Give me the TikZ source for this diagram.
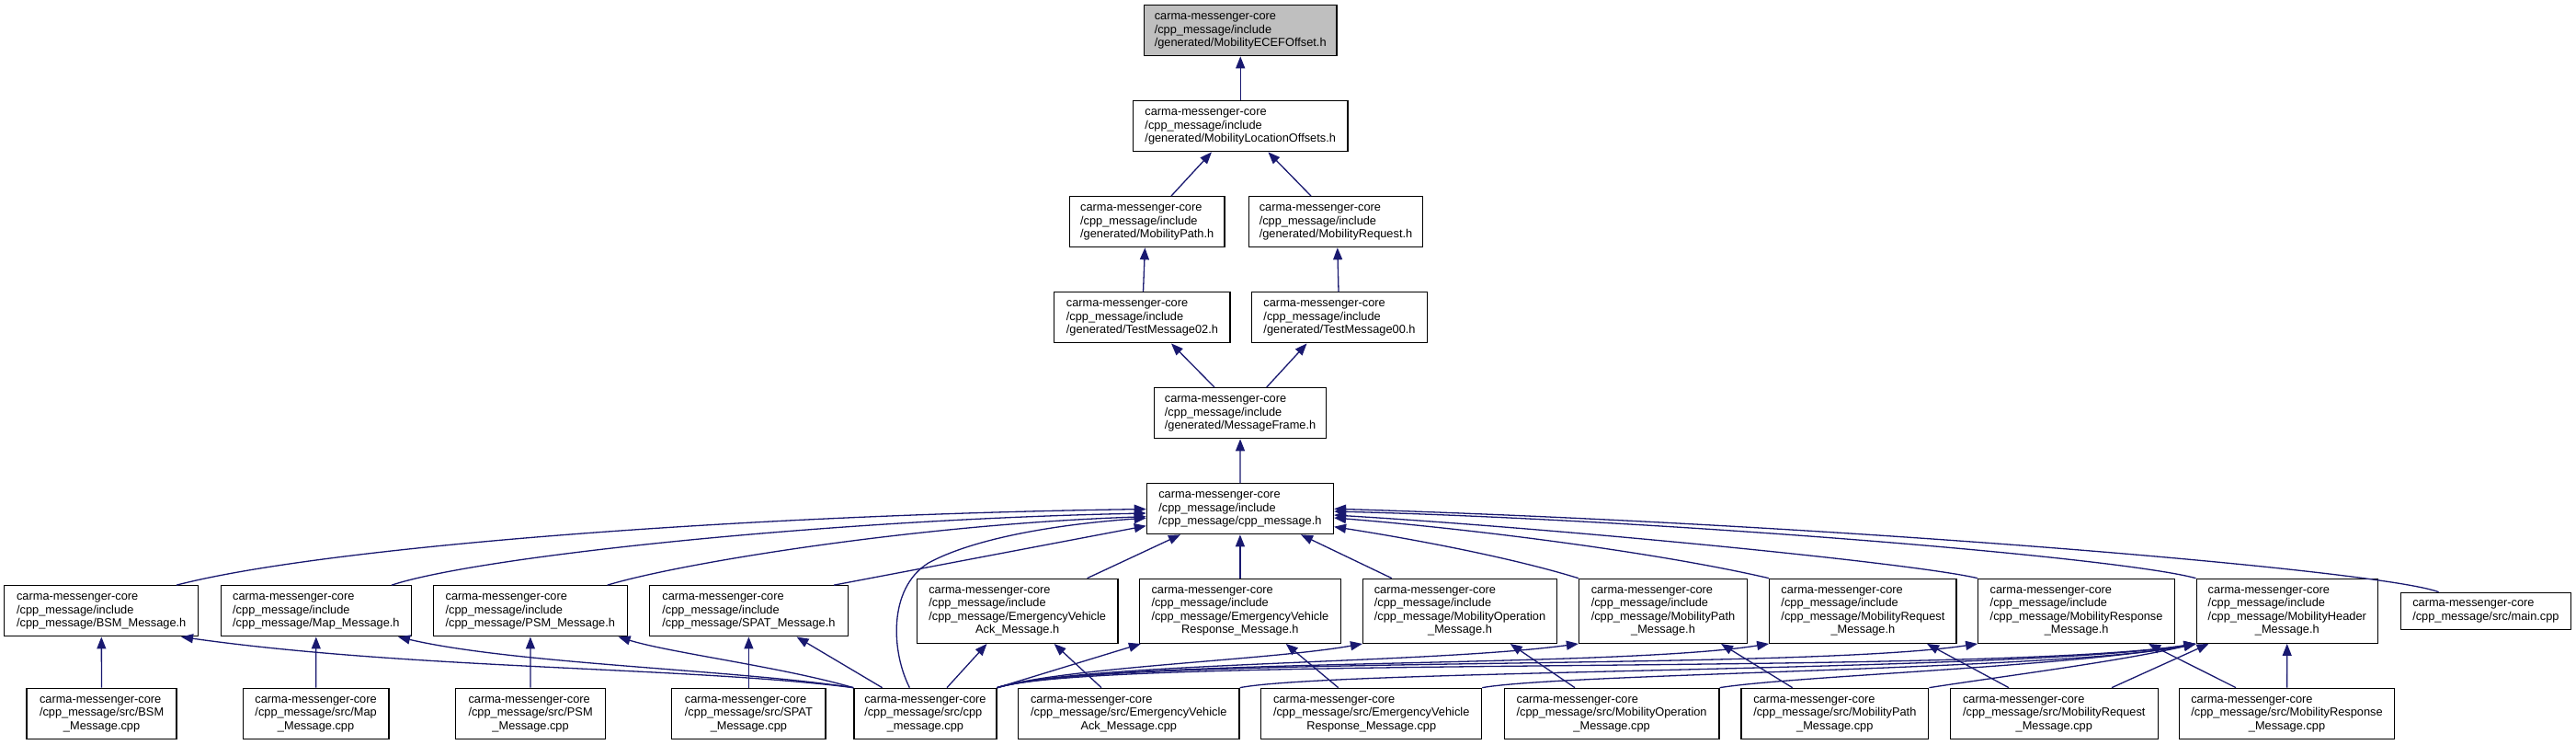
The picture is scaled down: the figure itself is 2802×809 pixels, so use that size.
\documentclass[tikz,border=0pt]{standalone}
\usepackage{fontspec}
\setmainfont{Liberation Sans}
\usetikzlibrary{arrows.meta}
\definecolor{edgeblue}{RGB}{25,25,112}
\definecolor{rootgray}{RGB}{191,191,191}
\newcommand\btxt[2]{\begin{tabular}{@{}l@{}}#1\\\multicolumn{1}{@{}c@{}}{#2}\end{tabular}}
\begin{document}
\begin{tikzpicture}[x=1pt,y=-1pt,
  box/.style={draw=black, line width=1.3pt, fill=white, inner sep=0pt, minimum height=55pt, font=\fontsize{12.8}{14.5}\selectfont},
  box4/.style={box, minimum height=70pt},
  edge/.style={draw=edgeblue, line width=1.3pt, -{Triangle[length=13pt,width=10pt]}}]
\fill[white] (0,0) rectangle (2802,809);
\useasboundingbox (0,0) rectangle (2802,809);
% top chain
\node[box, fill=rootgray, minimum width=209.7pt] (ecef) at (1349.2,33.2) {\btxt{carma-messenger-core\\/cpp\_message/include}{/generated/MobilityECEFOffset.h}};
\node[box, minimum width=233.5pt] (locoff) at (1349.2,137.2) {\btxt{carma-messenger-core\\/cpp\_message/include}{/generated/MobilityLocationOffsets.h}};
\node[box, minimum width=168.4pt] (mpathgen) at (1247.7,241.2) {\btxt{carma-messenger-core\\/cpp\_message/include}{/generated/MobilityPath.h}};
\node[box, minimum width=189.5pt] (mreqgen) at (1453,241.2) {\btxt{carma-messenger-core\\/cpp\_message/include}{/generated/MobilityRequest.h}};
\node[box, minimum width=191.3pt] (tm02) at (1242.4,345.3) {\btxt{carma-messenger-core\\/cpp\_message/include}{/generated/TestMessage02.h}};
\node[box, minimum width=191.3pt] (tm00) at (1457,345.3) {\btxt{carma-messenger-core\\/cpp\_message/include}{/generated/TestMessage00.h}};
\node[box, minimum width=187.4pt] (mframe) at (1349.1,449.2) {\btxt{carma-messenger-core\\/cpp\_message/include}{/generated/MessageFrame.h}};
\node[box, minimum width=203pt] (cpph) at (1348.9,553.2) {\btxt{carma-messenger-core\\/cpp\_message/include}{/cpp\_message/cpp\_message.h}};
% header row
\node[box, minimum width=210.9pt] (bsmh) at (110.2,664.3) {\btxt{carma-messenger-core\\/cpp\_message/include}{/cpp\_message/BSM\_Message.h}};
\node[box, minimum width=206.7pt] (maph) at (343.9,664.3) {\btxt{carma-messenger-core\\/cpp\_message/include}{/cpp\_message/Map\_Message.h}};
\node[box, minimum width=210.8pt] (psmh) at (576.8,664.3) {\btxt{carma-messenger-core\\/cpp\_message/include}{/cpp\_message/PSM\_Message.h}};
\node[box, minimum width=215.7pt] (spath) at (814.4,664.3) {\btxt{carma-messenger-core\\/cpp\_message/include}{/cpp\_message/SPAT\_Message.h}};
\node[box4, minimum width=218.7pt] (evackh) at (1106.7,664.3) {\btxt{carma-messenger-core\\/cpp\_message/include\\/cpp\_message/EmergencyVehicle}{Ack\_Message.h}};
\node[box4, minimum width=218.7pt] (evresph) at (1348.9,664.3) {\btxt{carma-messenger-core\\/cpp\_message/include\\/cpp\_message/EmergencyVehicle}{Response\_Message.h}};
\node[box4, minimum width=210.8pt] (mopH) at (1588,664.3) {\btxt{carma-messenger-core\\/cpp\_message/include\\/cpp\_message/MobilityOperation}{\_Message.h}};
\node[box4, minimum width=183pt] (mpathH) at (1809,664.3) {\btxt{carma-messenger-core\\/cpp\_message/include\\/cpp\_message/MobilityPath}{\_Message.h}};
\node[box4, minimum width=203.3pt] (mreqH) at (2026.4,664.3) {\btxt{carma-messenger-core\\/cpp\_message/include\\/cpp\_message/MobilityRequest}{\_Message.h}};
\node[box4, minimum width=213.7pt] (mrespH) at (2258.6,664.3) {\btxt{carma-messenger-core\\/cpp\_message/include\\/cpp\_message/MobilityResponse}{\_Message.h}};
\node[box4, minimum width=197.3pt] (mheadH) at (2487.8,664.3) {\btxt{carma-messenger-core\\/cpp\_message/include\\/cpp\_message/MobilityHeader}{\_Message.h}};
\node[box, minimum width=185.2pt, minimum height=40pt] (maincpp) at (2703.9,664.3) {\btxt{carma-messenger-core}{/cpp\_message/src/main.cpp}};
% source row
\node[box, minimum width=163pt] (bsmcpp) at (110.6,775.8) {\btxt{carma-messenger-core\\/cpp\_message/src/BSM}{\_Message.cpp}};
\node[box, minimum width=158.7pt] (mapcpp) at (343.6,775.8) {\btxt{carma-messenger-core\\/cpp\_message/src/Map}{\_Message.cpp}};
\node[box, minimum width=163pt] (psmcpp) at (577.1,775.8) {\btxt{carma-messenger-core\\/cpp\_message/src/PSM}{\_Message.cpp}};
\node[box, minimum width=167.3pt] (spatcpp) at (814.4,775.8) {\btxt{carma-messenger-core\\/cpp\_message/src/SPAT}{\_Message.cpp}};
\node[box, minimum width=155.1pt] (cppcpp) at (1006.4,775.8) {\btxt{carma-messenger-core\\/cpp\_message/src/cpp}{\_message.cpp}};
\node[box, minimum width=240.5pt] (evackcpp) at (1227.8,775.8) {\btxt{carma-messenger-core\\/cpp\_message/src/EmergencyVehicle}{Ack\_Message.cpp}};
\node[box, minimum width=239.8pt] (evrespcpp) at (1491.7,775.8) {\btxt{carma-messenger-core\\/cpp\_message/src/EmergencyVehicle}{Response\_Message.cpp}};
\node[box, minimum width=233.6pt] (mopcpp) at (1753.1,775.8) {\btxt{carma-messenger-core\\/cpp\_message/src/MobilityOperation}{\_Message.cpp}};
\node[box, minimum width=203.9pt] (mpathcpp) at (1995.8,775.8) {\btxt{carma-messenger-core\\/cpp\_message/src/MobilityPath}{\_Message.cpp}};
\node[box, minimum width=225.8pt] (mreqcpp) at (2234.3,775.8) {\btxt{carma-messenger-core\\/cpp\_message/src/MobilityRequest}{\_Message.cpp}};
\node[box, minimum width=234.3pt] (mrespcpp) at (2487.5,775.8) {\btxt{carma-messenger-core\\/cpp\_message/src/MobilityResponse}{\_Message.cpp}};
% top chain edges
\draw[edge] (locoff) -- (ecef);
\draw[edge] ([xshift=26.3pt]mpathgen.north) -- ([xshift=-31.2pt]locoff.south);
\draw[edge] ([xshift=-27pt]mreqgen.north) -- ([xshift=30.2pt]locoff.south);
\draw[edge] ([xshift=1.1pt]tm02.north) -- ([xshift=-2.3pt]mpathgen.south);
\draw[edge] ([xshift=-1pt]tm00.north) -- ([xshift=1.8pt]mreqgen.south);
\draw[edge] ([xshift=-28.1pt]mframe.north) -- ([xshift=31.6pt]tm02.south);
\draw[edge] ([xshift=28.6pt]mframe.north) -- ([xshift=-35.5pt]tm00.south);
\draw[edge] (cpph) -- (mframe);
% into cpp_message.h, left
\draw[edge] ([xshift=81.8pt]bsmh.north) .. controls (350,595) and (800,560) .. ([yshift=-0.3pt]cpph.west);
\draw[edge] ([xshift=82.1pt]maph.north) .. controls (520,605) and (900,565) .. ([yshift=-4.8pt]cpph.west);
\draw[edge] ([xshift=83.9pt]psmh.north) .. controls (740,612) and (1000,570) .. ([yshift=-8.5pt]cpph.west);
\draw[edge] ([xshift=92.6pt]spath.north) -- ([yshift=-18.5pt]cpph.west);
\draw[edge] ([xshift=-17pt]cppcpp.north) .. controls (970,710) and (965,640) .. (1010,612) .. controls (1060,585) and (1150,570) .. ([yshift=-10pt]cpph.west);
\draw[edge] ([xshift=75.9pt]evackh.north) -- ([xshift=-64.9pt]cpph.south);
\draw[edge] (evresph) -- (cpph);
\draw[edge] ([xshift=-74.2pt]mopH.north) -- ([xshift=66.1pt]cpph.south);
% into cpp_message.h, right
\draw[edge] (mpathH.north west) .. controls (1640,605) and (1530,585) .. ([yshift=-19.5pt]cpph.east);
\draw[edge] (mreqH.north west) .. controls (1800,600) and (1600,575) .. ([yshift=-9.8pt]cpph.east);
\draw[edge] (mrespH.north west) .. controls (2080,612) and (1700,575) .. ([yshift=-6.8pt]cpph.east);
\draw[edge] (mheadH.north west) .. controls (2300,605) and (1800,565) .. ([yshift=-2.8pt]cpph.east);
\draw[edge] ([xshift=-51.3pt]maincpp.north) .. controls (2590,620) and (2000,570) .. (cpph.east);
% sources to headers, left
\draw[edge] (bsmcpp) -- (bsmh);
\draw[edge] (mapcpp) -- (maph);
\draw[edge] (psmcpp) -- (psmh);
\draw[edge] (spatcpp) -- (spath);
\draw[edge] (cppcpp.north west) .. controls (750,725) and (450,728) .. ([xshift=86.8pt]bsmh.south);
\draw[edge] (cppcpp.north west) .. controls (800,728) and (560,722) .. ([xshift=89.1pt]maph.south);
\draw[edge] (cppcpp.north west) .. controls (850,725) and (730,710) .. ([xshift=95.8pt]psmh.south);
\draw[edge] ([xshift=-46.8pt]cppcpp.north) -- ([xshift=52.1pt]spath.south);
% sources to headers, right
\draw[edge] ([xshift=23.6pt]cppcpp.north) -- ([xshift=-33.2pt]evackh.south);
\draw[edge] ([xshift=-29.8pt]evackcpp.north) -- ([xshift=39.9pt]evackh.south);
\draw[edge] (cppcpp.north east) -- ([xshift=2pt]evresph.south west);
\draw[edge] ([xshift=-36pt]evrespcpp.north) -- ([xshift=49.8pt]evresph.south);
\draw[edge] (cppcpp.north east) .. controls (1160,725) and (1380,718) .. (mopH.south west);
\draw[edge] ([xshift=-40.1pt]mopcpp.north) -- ([xshift=54.7pt]mopH.south);
\draw[edge] (cppcpp.north east) .. controls (1180,720) and (1550,722) .. (mpathH.south west);
\draw[edge] ([xshift=-46.1pt]mpathcpp.north) -- ([xshift=63pt]mpathH.south);
\draw[edge] (cppcpp.north east) .. controls (1200,715) and (1750,727) .. (mreqH.south west);
\draw[edge] ([xshift=-49.3pt]mreqcpp.north) -- ([xshift=69.6pt]mreqH.south);
\draw[edge] (cppcpp.north east) .. controls (1200,712) and (1950,730) .. (mrespH.south west);
\draw[edge] ([xshift=-55.5pt]mrespcpp.north) -- ([xshift=78.4pt]mrespH.south);
\draw[edge] (cppcpp.north east) .. controls (1200,712) and (2150,735) .. (mheadH.south west);
\draw[edge] (evackcpp.north east) .. controls (1450,728) and (2200,730) .. (mheadH.south west);
\draw[edge] (evrespcpp.north east) .. controls (1700,732) and (2250,728) .. (mheadH.south west);
\draw[edge] (mopcpp.north east) .. controls (1950,735) and (2250,725) .. (mheadH.south west);
\draw[edge] (mpathcpp.north east) .. controls (2180,735) and (2300,720) .. (mheadH.south west);
\draw[edge] ([xshift=62.7pt]mreqcpp.north) -- ([xshift=14pt]mheadH.south west);
\draw[edge] (mrespcpp) -- (mheadH);
\end{tikzpicture}
\end{document}
